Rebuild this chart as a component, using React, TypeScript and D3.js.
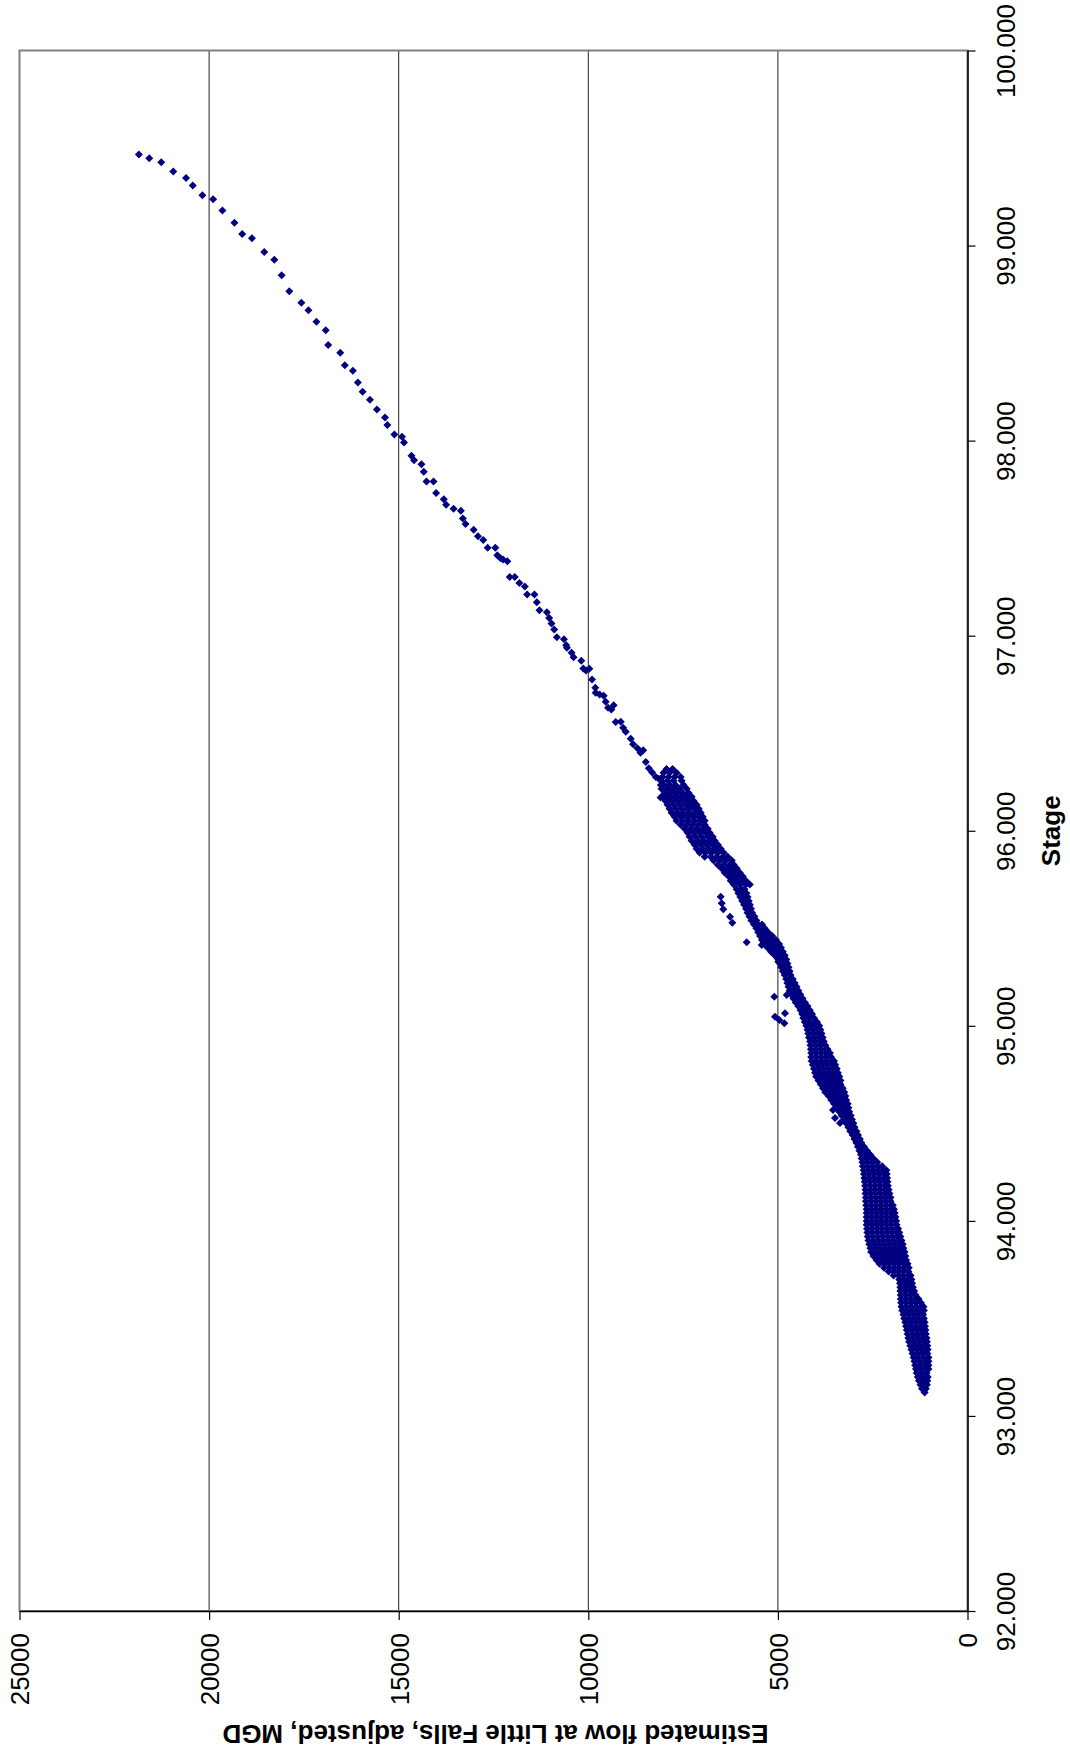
import React, { useEffect, useRef } from "react";
import * as d3 from "d3";

// axis ticks
const stageTicks = [92, 93, 94, 95, 96, 97, 98, 99, 100];
const flowTicks = [0, 5000, 10000, 15000, 20000, 25000];
const flowGrid = [5000, 10000, 15000, 20000];

// high-flow tail, read point by point (stage, MGD)
const tailStage = [
  99.467, 99.448, 99.427, 99.38, 99.347, 99.308, 99.258, 99.238, 99.18, 99.117,
  99.059, 99.038, 98.967, 98.927, 98.848, 98.766, 98.707, 98.669, 98.609, 98.566,
  98.49, 98.45, 98.387, 98.358, 98.298, 98.251, 98.21, 98.159, 98.119, 98.08,
  98.031, 98.02, 97.991, 97.923, 97.899, 97.879, 97.84, 97.79, 97.79, 97.732,
  97.7, 97.671, 97.651, 97.64, 97.601, 97.572, 97.543, 97.51, 97.49, 97.451,
  97.451, 97.412, 97.398, 97.39, 97.381, 97.301, 97.301, 97.27, 97.252, 97.211,
  97.211, 97.171, 97.13, 97.12, 97.091, 97.062, 97.032, 96.992, 96.982, 96.951,
  96.938, 96.912, 96.89, 96.871, 96.832, 96.822, 96.83, 96.776, 96.733, 96.707,
  96.699, 96.692, 96.661, 96.631, 96.622, 96.643, 96.558, 96.559, 96.528, 96.508,
  96.472, 96.443, 96.423, 96.4, 96.413, 96.353, 96.321, 96.298, 96.276, 96.266,
  96.234, 96.17, 96.179,
];
const tailFlow = [
  21852, 21579, 21262, 20945, 20608, 20431, 20177, 19894, 19648, 19331,
  19127, 18870, 18545, 18280, 18087, 17884, 17566, 17381, 17169, 16923,
  16860, 16542, 16421, 16209, 16077, 15952, 15759, 15574, 15362, 15299,
  15114, 14913, 14860, 14664, 14595, 14400, 14339, 14267, 14082, 14013,
  13810, 13749, 13553, 13360, 13307, 13236, 13024, 12910, 12770, 12654,
  12452, 12400, 12320, 12249, 12135, 12071, 11939, 11817, 11675, 11614,
  11421, 11357, 11288, 11093, 11032, 10971, 10899, 10828, 10643, 10582,
  10563, 10442, 10389, 10185, 10132, 10061, 9974, 9902, 9815, 9807,
  9701, 9595, 9542, 9479, 9392, 9331, 9278, 9145, 9082, 9013,
  8881, 8818, 8704, 8624, 8553, 8484, 8405, 8315, 8220, 8140,
  8087, 8095, 7937,
];

// stray points left of the main band (stage, MGD)
const outliers: [number, number][] = [
  [95.662, 6508], [95.628, 6482], [95.597, 6440], [95.559, 6263], [95.529, 6203],
  [95.428, 5823], [95.414, 5427], [95.329, 4989], [95.149, 5095], [95.158, 4768],
  [95.047, 5076], [95.03, 4963], [95.064, 4813], [95.013, 4831],
  [94.568, 3547], [94.527, 3494], [94.502, 3362],
];

// dense clump around stage 96 : [stage, flows at that stage]
const clusterRows: [number, number[]][] = [
  [96.317, [7937, 7778]],
  [96.297, [8016, 7857, 7672]],
  [96.276, [8042, 7884, 7725, 7566]],
  [96.256, [8069, 7910, 7751, 7540]],
  [96.235, [8016, 7857, 7698, 7487]],
  [96.215, [8069, 7910, 7751, 7593, 7407]],
  [96.194, [7989, 7831, 7672, 7513, 7354]],
  [96.174, [8042, 7884, 7725, 7566, 7407, 7275]],
  [96.153, [7963, 7804, 7646, 7487, 7350, 7222]],
  [96.133, [7910, 7751, 7593, 7434, 7302, 7143]],
  [96.113, [7857, 7698, 7540, 7381, 7222, 7090]],
  [96.092, [7804, 7646, 7487, 7328, 7169, 7037]],
  [96.072, [7725, 7566, 7407, 7249, 7090, 6984]],
  [96.051, [7672, 7513, 7354, 7196, 7037, 6931]],
  [96.031, [7566, 7407, 7249, 7090, 6931]],
  [96.01, [7460, 7302, 7143, 6984, 6852]],
  [95.99, [7381, 7222, 7063, 6905, 6799]],
  [95.969, [7328, 7169, 7010, 6852, 6720]],
  [95.949, [7275, 7116, 6958, 6799, 6667]],
  [95.928, [7196, 7037, 6878, 6720, 6587]],
  [95.908, [7143, 6984, 6825, 6667, 6508]],
  [95.887, [7063, 6905, 6746, 6587, 6429]],
  [95.867, [6931, 6773, 6614, 6455, 6323]],
  [95.847, [6693, 6534, 6376, 6217]],
  [95.826, [6587, 6429, 6270, 6164]],
  [95.806, [6482, 6323, 6191, 6085]],
  [95.785, [6402, 6244, 6111, 6005]],
  [95.765, [6296, 6164, 6032, 5926]],
  [95.744, [6244, 6085, 5952, 5847]],
  [95.724, [6164, 6005, 5847, 5741]],
];

// main band, stage 95.7 down to 94.6
const midBandRows: [number, number[]][] = [
  [95.7, [6090, 5960, 5880]],
  [95.68, [6040, 5930, 5830]],
  [95.66, [5990, 5890, 5800]],
  [95.64, [5940, 5850, 5770]],
  [95.62, [5890, 5800, 5740]],
  [95.6, [5840, 5710]],
  [95.58, [5800, 5680]],
  [95.56, [5750, 5620]],
  [95.54, [5700, 5570]],
  [95.52, [5630, 5520, 5420]],
  [95.5, [5570, 5460, 5350]],
  [95.48, [5520, 5390, 5260]],
  [95.46, [5470, 5340, 5210, 5150]],
  [95.44, [5420, 5290, 5160, 5050]],
  [95.42, [5360, 5230, 5100, 4970]],
  [95.4, [5270, 5140, 5010, 4920]],
  [95.38, [5180, 5060, 4940, 4870]],
  [95.36, [5080, 4950, 4820]],
  [95.34, [4990, 4880, 4780]],
  [95.32, [4950, 4840, 4750]],
  [95.3, [4910, 4810, 4720]],
  [95.28, [4870, 4770, 4690]],
  [95.26, [4820, 4670]],
  [95.24, [4780, 4690, 4610]],
  [95.22, [4750, 4650, 4560]],
  [95.2, [4720, 4610, 4510]],
  [95.18, [4690, 4570, 4460]],
  [95.16, [4650, 4530, 4410]],
  [95.14, [4590, 4470, 4350]],
  [95.12, [4530, 4410, 4290]],
  [95.1, [4460, 4340, 4220]],
  [95.08, [4400, 4280, 4160]],
  [95.06, [4360, 4230, 4100]],
  [95.04, [4330, 4190, 4050]],
  [95.02, [4290, 4160, 4030, 3970]],
  [95.0, [4250, 4120, 3990, 3910]],
  [94.98, [4220, 4090, 3960, 3880]],
  [94.96, [4200, 4070, 3940, 3850]],
  [94.94, [4180, 4050, 3920, 3820]],
  [94.92, [4150, 4020, 3890, 3790]],
  [94.9, [4140, 4010, 3880, 3750]],
  [94.88, [4130, 4000, 3870, 3740, 3690]],
  [94.86, [4120, 3990, 3860, 3730, 3630]],
  [94.84, [4120, 3990, 3860, 3730, 3600]],
  [94.82, [4110, 3980, 3850, 3720, 3590, 3520]],
  [94.8, [4080, 3950, 3820, 3690, 3560, 3490]],
  [94.78, [4050, 3920, 3790, 3660, 3530, 3450]],
  [94.76, [4020, 3890, 3760, 3630, 3500, 3420]],
  [94.74, [3990, 3860, 3730, 3600, 3470, 3380]],
  [94.72, [3930, 3800, 3670, 3540, 3420, 3350]],
  [94.7, [3870, 3740, 3610, 3480, 3350]],
  [94.68, [3810, 3680, 3550, 3420, 3290]],
  [94.66, [3750, 3620, 3490, 3360, 3250]],
  [94.64, [3660, 3540, 3420, 3300, 3220]],
  [94.62, [3590, 3460, 3330, 3200]],
  [94.6, [3520, 3390, 3260, 3160]],
];

// main band, stage 94.58 down to the low end
const lowBandRows: [number, number[]][] = [
  [94.58, [3450, 3320, 3200, 3140]],
  [94.56, [3380, 3250, 3120]],
  [94.54, [3320, 3200, 3080]],
  [94.52, [3260, 3150, 3050]],
  [94.5, [3200, 3100, 3010]],
  [94.48, [3140, 3060, 2980]],
  [94.46, [3090, 3010, 2930]],
  [94.44, [3030, 2950, 2890]],
  [94.42, [2980, 2900, 2840]],
  [94.4, [2930, 2850, 2800]],
  [94.38, [2890, 2800, 2730]],
  [94.36, [2850, 2740, 2650]],
  [94.34, [2810, 2690, 2570]],
  [94.32, [2790, 2660, 2530, 2480]],
  [94.3, [2770, 2640, 2510, 2380]],
  [94.28, [2760, 2630, 2500, 2370, 2250]],
  [94.26, [2740, 2610, 2480, 2350, 2220, 2140]],
  [94.24, [2730, 2600, 2470, 2340, 2210, 2130]],
  [94.22, [2720, 2590, 2460, 2330, 2200, 2120]],
  [94.2, [2710, 2580, 2450, 2320, 2190, 2110]],
  [94.18, [2700, 2570, 2440, 2310, 2180, 2100]],
  [94.16, [2690, 2560, 2430, 2300, 2170, 2080]],
  [94.14, [2690, 2560, 2430, 2300, 2170, 2060]],
  [94.12, [2680, 2550, 2420, 2290, 2160, 2030]],
  [94.1, [2680, 2550, 2420, 2290, 2160, 2030]],
  [94.08, [2670, 2540, 2410, 2280, 2150, 2020, 1970]],
  [94.06, [2660, 2530, 2400, 2270, 2140, 2010, 1940]],
  [94.04, [2660, 2530, 2400, 2270, 2140, 2010, 1920]],
  [94.02, [2660, 2530, 2400, 2270, 2140, 2010, 1900]],
  [94.0, [2660, 2530, 2400, 2270, 2140, 2010, 1880]],
  [93.98, [2660, 2530, 2400, 2270, 2140, 2010, 1870]],
  [93.96, [2650, 2520, 2390, 2260, 2130, 2000, 1870, 1830]],
  [93.94, [2640, 2510, 2380, 2250, 2120, 1990, 1860, 1800]],
  [93.92, [2630, 2500, 2370, 2240, 2110, 1980, 1850, 1770]],
  [93.9, [2610, 2480, 2350, 2220, 2090, 1960, 1830, 1740]],
  [93.88, [2590, 2460, 2330, 2200, 2070, 1940, 1810, 1710]],
  [93.86, [2560, 2430, 2300, 2170, 2040, 1910, 1780, 1690]],
  [93.84, [2540, 2410, 2280, 2150, 2020, 1890, 1760, 1660]],
  [93.82, [2480, 2350, 2220, 2090, 1960, 1830, 1700, 1640]],
  [93.8, [2400, 2270, 2140, 2010, 1880, 1750, 1620]],
  [93.78, [2320, 2190, 2060, 1930, 1800, 1670, 1580]],
  [93.76, [2200, 2070, 1940, 1810, 1680, 1550]],
  [93.74, [2080, 1950, 1820, 1690, 1560]],
  [93.72, [1950, 1820, 1690, 1560, 1500]],
  [93.7, [1800, 1680, 1560, 1480]],
  [93.68, [1780, 1660, 1540, 1460]],
  [93.66, [1770, 1650, 1530, 1440]],
  [93.64, [1770, 1640, 1510, 1410]],
  [93.62, [1760, 1630, 1500, 1370]],
  [93.6, [1760, 1630, 1500, 1370, 1290]],
  [93.58, [1750, 1620, 1490, 1360, 1230]],
  [93.56, [1740, 1610, 1480, 1350, 1220, 1160]],
  [93.54, [1720, 1590, 1460, 1330, 1200, 1150]],
  [93.52, [1690, 1560, 1430, 1300, 1170]],
  [93.5, [1670, 1540, 1410, 1280, 1150]],
  [93.48, [1640, 1510, 1380, 1250, 1130]],
  [93.46, [1620, 1490, 1360, 1230, 1120]],
  [93.44, [1600, 1470, 1340, 1210, 1110]],
  [93.42, [1580, 1450, 1320, 1190, 1100]],
  [93.4, [1560, 1430, 1300, 1170, 1080]],
  [93.38, [1540, 1410, 1280, 1150, 1070]],
  [93.36, [1510, 1380, 1250, 1120, 1060]],
  [93.34, [1480, 1350, 1220, 1090, 1050]],
  [93.32, [1450, 1320, 1190, 1060]],
  [93.3, [1420, 1290, 1160, 1030]],
  [93.28, [1400, 1270, 1140, 1030]],
  [93.26, [1380, 1250, 1120, 1030]],
  [93.24, [1360, 1230, 1100, 1030]],
  [93.22, [1340, 1210, 1080]],
  [93.2, [1310, 1180, 1050]],
  [93.18, [1280, 1160, 1060]],
  [93.16, [1240, 1150, 1070]],
  [93.14, [1200, 1100]],
  [93.12, [1130]],
];

const W = 1070;
const H = 1764;
// plot area (the chart is printed turned a quarter turn)
const left = 19.5;
const right = 967.5;
const top = 50.5;
const bottom = 1611;
const FONT = "Arial, 'Liberation Sans', Helvetica, sans-serif";

export default function App() {
  const ref = useRef<SVGSVGElement>(null);

  useEffect(() => {
    const svg = d3.select(ref.current);
    svg.selectAll("*").remove();

    const x = d3.scaleLinear().domain([0, 25000]).range([right, left]);
    const y = d3.scaleLinear().domain([92, 100]).range([bottom, top]);

    svg.append("rect").attr("width", W).attr("height", H).attr("fill", "#fff");

    // gridlines
    svg.append("g")
      .selectAll("line")
      .data(flowGrid)
      .enter()
      .append("line")
      .attr("x1", (d) => x(d))
      .attr("x2", (d) => x(d))
      .attr("y1", top)
      .attr("y2", bottom)
      .attr("stroke", "#222")
      .attr("stroke-width", 1);

    svg.append("rect")
      .attr("x", left)
      .attr("y", top)
      .attr("width", right - left)
      .attr("height", bottom - top)
      .attr("fill", "none")
      .attr("stroke", "#808080")
      .attr("stroke-width", 2);

    // all the points
    const pts: [number, number][] = [];
    tailStage.forEach((s, i) => pts.push([s, tailFlow[i]]));
    [...clusterRows, ...midBandRows, ...lowBandRows].forEach(([s, flows]) =>
      flows.forEach((f) => pts.push([s, f]))
    );
    outliers.forEach((p) => pts.push(p));

    const diamond = d3.symbol().type(d3.symbolSquare).size(32)();
    svg.append("g")
      .selectAll("path")
      .data(pts)
      .enter()
      .append("path")
      .attr("d", diamond)
      .attr("transform", (d) => `translate(${x(d[1])},${y(d[0])}) rotate(45)`)
      .attr("fill", "#000080");

    // stage axis, on the right
    const ay = svg.append("g")
      .attr("transform", `translate(${right},0)`)
      .call(
        d3.axisRight(y)
          .tickValues(stageTicks)
          .tickSize(8)
          .tickSizeOuter(0)
          .tickFormat(d3.format(".3f"))
      );
    ay.select(".domain").attr("stroke", "#000").attr("stroke-width", 1.5);
    ay.selectAll(".tick line").attr("stroke", "#000").attr("stroke-width", 1.2);
    ay.selectAll("text")
      .attr("x", null)
      .attr("dy", null)
      .attr("text-anchor", "middle")
      .attr("transform", "translate(47.5,0) rotate(-90)")
      .attr("font-size", 26)
      .attr("font-family", FONT)
      .attr("fill", "#000");

    // flow axis, along the bottom
    const ax = svg.append("g")
      .attr("transform", `translate(0,${bottom})`)
      .call(
        d3.axisBottom(x)
          .tickValues(flowTicks)
          .tickSize(9)
          .tickSizeOuter(0)
          .tickFormat(d3.format("d"))
      );
    ax.select(".domain").attr("stroke", "#000").attr("stroke-width", 1.5);
    ax.selectAll(".tick line").attr("stroke", "#000").attr("stroke-width", 1.2);
    ax.selectAll("text")
      .attr("y", null)
      .attr("dy", null)
      .attr("text-anchor", "end")
      .attr("transform", "translate(9.3,22) rotate(-90)")
      .attr("font-size", 26)
      .attr("font-family", FONT)
      .attr("fill", "#000");

    // axis titles
    svg.append("text")
      .attr("transform", `translate(1060,${(top + bottom) / 2}) rotate(-90)`)
      .attr("text-anchor", "middle")
      .attr("font-size", 26)
      .attr("font-weight", "bold")
      .attr("font-family", FONT)
      .text("Stage");

    svg.append("text")
      .attr("transform", `translate(${(left + right) / 2 + 2},1725) rotate(180)`)
      .attr("text-anchor", "middle")
      .attr("font-size", 26)
      .attr("font-weight", "bold")
      .attr("font-family", FONT)
      .text("Estimated flow at Little Falls, adjusted, MGD");
  }, []);

  return (
    <div style={{ position: "absolute", left: 0, top: 0, width: W, height: H }}>
      <svg ref={ref} width={W} height={H} style={{ display: "block" }} />
    </div>
  );
}
